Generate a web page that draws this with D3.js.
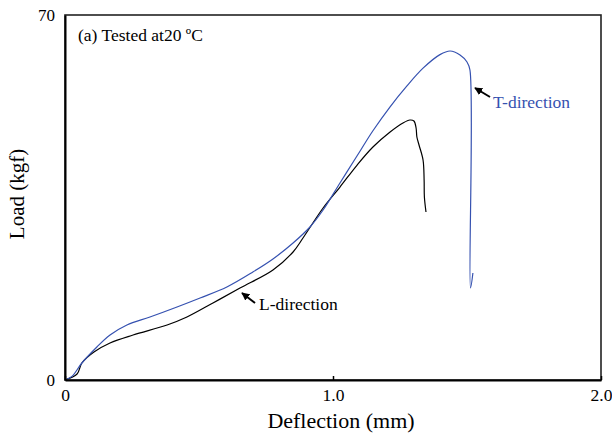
<!DOCTYPE html>
<html><head><meta charset="utf-8">
<script src="https://cdn.jsdelivr.net/npm/d3@7"></script>
<style>body{margin:0;background:#fff;} svg{display:block;} text{font-family:"Liberation Serif","Times New Roman",serif;}</style>
</head><body>
<script>
// Data
const tDeflection = [0, 0.026, 0.063, 0.119, 0.168, 0.231, 0.317, 0.418, 0.504, 0.604, 0.701, 0.776, 0.851, 0.914, 0.963, 1.026, 1.090, 1.149, 1.213, 1.276, 1.336, 1.399, 1.437, 1.474, 1.500, 1.511, 1.513, 1.522];
const tLoad       = [0, 0.7, 3.26, 6.33, 8.63, 10.55, 12.08, 14.0, 15.73, 17.84, 20.71, 23.21, 26.27, 29.34, 32.60, 37.78, 43.0, 47.8, 52.4, 56.4, 59.8, 62.4, 63.10, 62.33, 60.99, 59.45, 17.64, 20.52];
const lDeflection = [0, 0.045, 0.063, 0.108, 0.168, 0.254, 0.381, 0.455, 0.552, 0.653, 0.776, 0.851, 0.888, 0.963, 1.026, 1.090, 1.149, 1.213, 1.261, 1.287, 1.302, 1.310, 1.313, 1.321, 1.336, 1.340, 1.341, 1.347];
const lLoad       = [0, 1.15, 3.26, 5.37, 7.10, 8.63, 10.55, 12.08, 14.77, 17.64, 21.10, 24.55, 27.23, 32.99, 37.01, 41.23, 44.68, 47.56, 49.29, 49.86, 49.67, 48.33, 46.60, 45.07, 42.19, 38.36, 35.10, 32.22];
const xTickValues = [0, 1, 2];
const xTickLabels = ["0", "1.0", "2.0"];
const yTickValues = [0, 70];
const yTickLabels = ["0", "70"];
const titleText = "(a) Tested at20 ºC";
const xTitle = "Deflection (mm)";
const yTitle = "Load (kgf)";

const W = 612, H = 436;
const m = {left: 65, right: 11, top: 15, bottom: 56};
const svg = d3.select("body").append("svg").attr("width", W).attr("height", H);
const x = d3.scaleLinear().domain([0, 2]).range([m.left, W - m.right]);
const y = d3.scaleLinear().domain([0, 70]).range([H - m.bottom, m.top]);

const line = d3.line().x(d => x(d[0])).y(d => y(d[1])).curve(d3.curveCatmullRom.alpha(0.5));
const tData = tDeflection.map((v, i) => [v, tLoad[i]]);
const lData = lDeflection.map((v, i) => [v, lLoad[i]]);

svg.append("path").attr("d", line(lData)).attr("fill", "none").attr("stroke", "#000").attr("stroke-width", 1.2);
svg.append("path").attr("d", line(tData)).attr("fill", "none").attr("stroke", "#3551b0").attr("stroke-width", 1.2);

// frame
svg.append("rect").attr("x", x(0)).attr("y", y(70)).attr("width", x(2) - x(0)).attr("height", y(0) - y(70))
  .attr("fill", "none").attr("stroke", "#222").attr("stroke-width", 1.6);

// x axis
const xAxis = d3.axisBottom(x).tickValues(xTickValues).tickSizeInner(-4).tickSizeOuter(0)
  .tickFormat((d, i) => xTickLabels[i]).tickPadding(9);
const gx = svg.append("g").attr("transform", `translate(0,${y(0)})`).call(xAxis);
gx.select(".domain").attr("stroke", "#000").attr("stroke-width", 2);
gx.selectAll(".tick line").attr("stroke", "#000").attr("stroke-width", 1.5);
gx.selectAll(".tick text").attr("font-size", 17.5).attr("fill", "#000").attr("font-family", "Liberation Serif");

// y axis
const yAxis = d3.axisLeft(y).tickValues(yTickValues).tickSize(0).tickFormat((d, i) => yTickLabels[i]).tickPadding(10);
const gy = svg.append("g").attr("transform", `translate(${x(0)},0)`).call(yAxis);
gy.select(".domain").attr("stroke", "#000").attr("stroke-width", 2);
gy.selectAll(".tick text").attr("font-size", 17).attr("fill", "#000").attr("font-family", "Liberation Serif");

// titles
svg.append("text").attr("x", 341).attr("y", 428).attr("text-anchor", "middle").attr("font-size", 22).text(xTitle);
svg.append("text").attr("transform", `translate(24,194) rotate(-90)`).attr("text-anchor", "middle")
  .attr("font-size", 21).text(yTitle);
svg.append("text").attr("x", 78).attr("y", 41).attr("font-size", 17.5).text(titleText);

// annotations with arrows
const defs = svg.append("defs");
defs.append("marker").attr("id", "ah").attr("viewBox", "0 0 10 10").attr("refX", 9).attr("refY", 5)
  .attr("markerWidth", 4).attr("markerHeight", 4).attr("orient", "auto")
  .append("path").attr("d", "M0,0 L10,5 L0,10 z").attr("fill", "#000");

svg.append("line").attr("x1", 255).attr("y1", 303).attr("x2", 242).attr("y2", 293)
  .attr("stroke", "#000").attr("stroke-width", 2).attr("marker-end", "url(#ah)");
svg.append("text").attr("x", 259).attr("y", 310).attr("font-size", 17.5).attr("fill", "#000").text("L-direction");

svg.append("line").attr("x1", 490).attr("y1", 97).attr("x2", 475).attr("y2", 88)
  .attr("stroke", "#000").attr("stroke-width", 2).attr("marker-end", "url(#ah)");
svg.append("text").attr("x", 493).attr("y", 108).attr("font-size", 17.5).attr("fill", "#3551b0").text("T-direction");
</script>
</body></html>
